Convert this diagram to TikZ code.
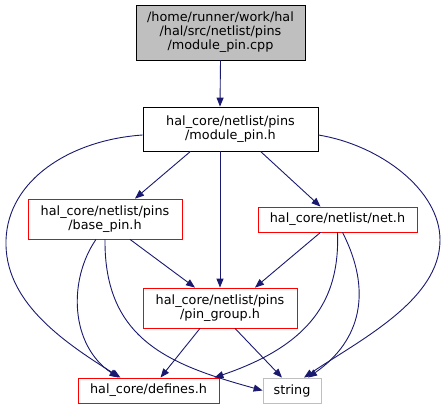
\documentclass[tikz,border=0pt]{standalone}
\usepackage{fontspec}
\setmainfont{DejaVu Sans}
\usepackage{tikz}
\usetikzlibrary{positioning,arrows.meta}
\definecolor{edgeblue}{RGB}{25,25,112}
\definecolor{boxgray}{RGB}{191,191,191}

\begin{document}
\begin{tikzpicture}[
  x=1pt, y=-1pt,
  font=\fontsize{12.8}{14}\selectfont,
  >={Triangle[length=9pt, width=7pt]},
  blk/.style={draw, align=center, inner sep=0pt, line width=0.8pt},
  inc/.style={blk, draw=red},
  ar/.style={->, draw=edgeblue, line width=0.9pt},
]
  \useasboundingbox (0,0) rectangle (447,409);

  \node[blk, fill=boxgray, minimum width=169pt, minimum height=55pt] (cpp) at (220.5,32.5)
        {/home/runner/work/hal\\/hal/src/netlist/pins\\/module\_pin.cpp};
  \node[blk, minimum width=175pt, minimum height=44pt] (mod) at (230.5,129)
        {hal\_core/netlist/pins\\/module\_pin.h};
  \node[inc, minimum width=154pt, minimum height=40pt] (base) at (105,219)
        {hal\_core/netlist/pins\\/base\_pin.h};
  \node[inc, minimum width=159pt, minimum height=25pt] (net) at (337.5,219.5)
        {hal\_core/netlist/net.h};
  \node[inc, minimum width=154pt, minimum height=40pt] (grp) at (220,308)
        {hal\_core/netlist/pins\\/pin\_group.h};
  \node[inc, minimum width=141pt, minimum height=25pt] (def) at (148.5,390.5)
        {hal\_core/defines.h};
  \node[blk, draw=boxgray, minimum width=58pt, minimum height=25pt] (str) at (292,390.5)
        {string};

  % includes
  \draw[ar] (cpp.south) -- ([xshift=-10.5pt]mod.north);
  \draw[ar] ([xshift=-40pt]mod.south) -- ([xshift=30pt]base.north);
  \draw[ar] ([xshift=-10.5pt]mod.south) -- (grp.north);
  \draw[ar] ([xshift=30pt]mod.south) -- ([xshift=-17pt]net.north);
  \draw[ar] ([yshift=-6pt]mod.west) .. controls (70,140) and (8,180) .. (6,240)
        .. controls (4,300) and (60,340) .. ([xshift=-28pt]def.north);
  \draw[ar] ([yshift=-6pt]mod.east) .. controls (380,145) and (440,190) .. (440,240)
        .. controls (440,300) and (360,340) .. ([xshift=12pt]str.north);

  \draw[ar] ([xshift=25pt]base.south) -- ([xshift=-25pt]grp.north);
  \draw[ar] ([xshift=-9pt]base.south) .. controls (68,280) and (70,345) .. ([xshift=-30pt]def.north);
  \draw[ar] ([xshift=0pt]base.south) .. controls (104,340) and (170,365) .. (str.west);

  \draw[ar] ([xshift=-17pt]net.south) -- ([xshift=35pt]grp.north);
  \draw[ar] (net.south) .. controls (340,300) and (310,345) .. ([xshift=-5pt]def.north east);
  \draw[ar] ([xshift=5pt]net.south) .. controls (372,290) and (362,340) .. ([xshift=16pt]str.north);

  \draw[ar] ([xshift=-20pt]grp.south) -- ([xshift=12pt]def.north);
  \draw[ar] ([xshift=15pt]grp.south) -- ([xshift=-10pt]str.north);
\end{tikzpicture}
\end{document}
